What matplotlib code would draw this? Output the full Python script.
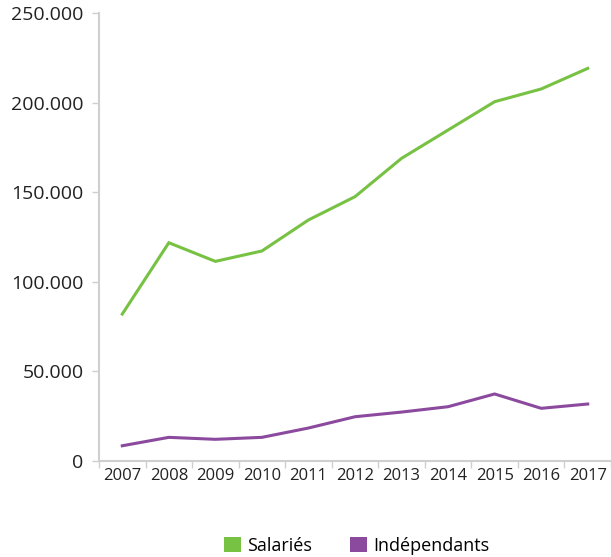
import matplotlib
matplotlib.use('Agg')
import numpy as np
import matplotlib.pyplot as plt
from matplotlib.patches import Patch
from matplotlib.ticker import FuncFormatter

years = ['2007', '2008', '2009', '2010', '2011', '2012', '2013', '2014', '2015', '2016', '2017']
salaries = [82000, 121800, 111400, 117200, 134500, 147500, 168900, 184700, 200500, 207600, 219100]
independants = [8500, 13200, 12100, 13200, 18400, 24700, 27300, 30300, 37400, 29400, 31800]

GREEN = '#77c143'
PURPLE = '#8c4a9e'
AXIS_GREY = '#cfcfcf'

plt.rcParams['font.family'] = ['Open Sans', 'DejaVu Sans']

fig = plt.figure(figsize=(6.11, 5.57), dpi=100)
ax = fig.add_axes([99 / 611, 1 - 461 / 557, 1 - 99 / 611, 448 / 557])

x = np.arange(len(years))
ax.plot(x, salaries, color=GREEN, linewidth=2.2, solid_joinstyle='miter')
ax.plot(x, independants, color=PURPLE, linewidth=2.2, solid_joinstyle='miter')

ax.set_xlim(-0.5, len(years) - 0.5)
ax.set_ylim(0, 250000)

# category axis: ticks between categories, labels at centres
ax.set_xticks(np.arange(-0.5, len(years)))
ax.set_xticklabels([])
ax.set_xticks(x, minor=True)
ax.set_xticklabels(years, minor=True, fontsize=12, color='#222222')
ax.tick_params(axis='x', which='minor', length=0, pad=5)
ax.tick_params(axis='x', which='major', length=5, color=AXIS_GREY, width=1)

ax.set_yticks(np.arange(0, 250001, 50000))
ax.yaxis.set_major_formatter(FuncFormatter(lambda v, p: f"{int(v):,}".replace(',', '.')))
ax.tick_params(axis='y', length=5, color=AXIS_GREY, width=1, labelsize=14,
               labelcolor='#222222', pad=6)

for side in ['top', 'right']:
    ax.spines[side].set_visible(False)
for side in ['left', 'bottom']:
    ax.spines[side].set_color(AXIS_GREY)
    ax.spines[side].set_linewidth(1.5)

handles = [Patch(facecolor=GREEN, label='Salariés'),
           Patch(facecolor=PURPLE, label='Indépendants')]
fig.legend(handles=handles, loc='lower center', bbox_to_anchor=(0.584, -0.025),
           ncol=2, frameon=False, fontsize=13, handlelength=0.95, handleheight=0.95,
           handletextpad=0.35, columnspacing=2.1)

fig.savefig('out.png', dpi=100)
plt.close(fig)
